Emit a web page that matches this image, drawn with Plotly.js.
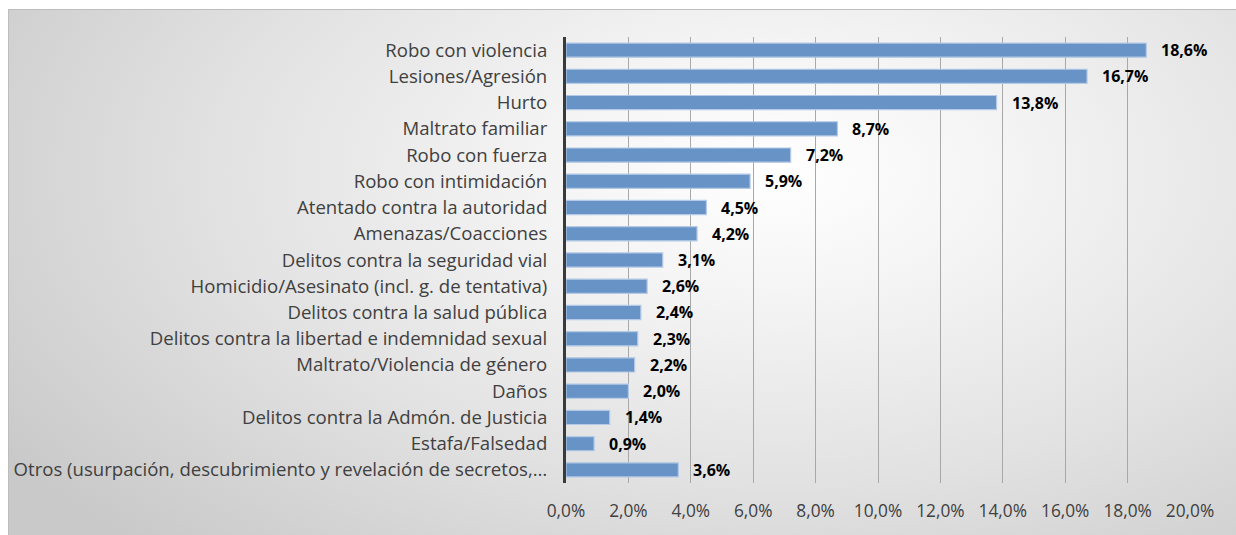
<!DOCTYPE html>
<html>
<head>
<meta charset="utf-8">
<script src="https://cdn.plot.ly/plotly-3.0.1.min.js"></script>
<style>
  html, body { margin: 0; padding: 0; background: #ffffff; }
  #wrap { position: relative; width: 1236px; height: 535px; overflow: hidden; }
  #bg { position: absolute; left: 8px; top: 9px; width: 1240px; height: 540px;
        border-top: 1px solid #bdbdbd; border-left: 1px solid #bdbdbd;
        background: radial-gradient(ellipse 75% 95% at 62% 30%, #ffffff 0%, #f4f4f4 25%, #e2e2e2 60%, #c9c9c9 100%); }
  #chart { position: absolute; left: 0; top: 0; width: 1236px; height: 535px; }
</style>
</head>
<body>
<div id="wrap">
  <div id="bg"></div>
  <div id="chart"></div>
</div>
<script>
const categories = [
  "Robo con violencia",
  "Lesiones/Agresión",
  "Hurto",
  "Maltrato familiar",
  "Robo con fuerza",
  "Robo con intimidación",
  "Atentado contra la autoridad",
  "Amenazas/Coacciones",
  "Delitos contra la seguridad vial",
  "Homicidio/Asesinato (incl. g. de tentativa)",
  "Delitos contra la salud pública",
  "Delitos contra la libertad e indemnidad sexual",
  "Maltrato/Violencia de género",
  "Daños",
  "Delitos contra la Admón. de Justicia",
  "Estafa/Falsedad",
  "Otros (usurpación, descubrimiento y revelación de secretos,…"
];
const values = [18.6, 16.7, 13.8, 8.7, 7.2, 5.9, 4.5, 4.2, 3.1, 2.6, 2.4, 2.3, 2.2, 2.0, 1.4, 0.9, 3.6];
const tickValues = [0, 2, 4, 6, 8, 10, 12, 14, 16, 18, 20];

const fmt = v => v.toFixed(1).replace('.', ',') + '%';

const trace = {
  type: 'bar',
  orientation: 'h',
  y: categories,
  x: values,
  marker: { color: '#6893c7', line: { color: '#b3c9e6', width: 1.2 } },
  hoverinfo: 'none'
};

const annotations = values.map((v, i) => ({
  x: v, y: categories[i], xref: 'x', yref: 'y',
  text: fmt(v), showarrow: false, xanchor: 'left', yanchor: 'middle',
  xshift: 13,
  font: { family: 'Open Sans, sans-serif', size: 16, color: '#000000', weight: 'bold' }
}));

const layout = {
  width: 1236, height: 535,
  margin: { l: 566, r: 46, t: 37, b: 52, pad: 0 },
  paper_bgcolor: 'rgba(0,0,0,0)',
  plot_bgcolor: 'rgba(0,0,0,0)',
  separators: ',.',
  bargap: 0.46,
  showlegend: false,
  font: { family: 'Open Sans, sans-serif', color: '#404040' },
  xaxis: {
    range: [0, 20],
    tickvals: tickValues,
    ticktext: tickValues.map(fmt),
    showgrid: true, gridcolor: '#a8a8a8', gridwidth: 1,
    zeroline: false, showline: false,
    ticks: 'outside', ticklen: 12, tickcolor: 'rgba(0,0,0,0)',
    tickfont: { size: 17.3, color: '#404040' },
    fixedrange: true
  },
  yaxis: {
    autorange: 'reversed',
    type: 'category',
    showgrid: false, zeroline: false,
    showline: true, linecolor: '#3a3a3a', linewidth: 3,
    ticks: 'outside', ticklen: 12, tickcolor: 'rgba(0,0,0,0)',
    tickfont: { size: 18.6, color: '#404040' },
    fixedrange: true
  },
  annotations: annotations
};

Plotly.newPlot('chart', [trace], layout, { displayModeBar: false, staticPlot: true });
</script>
</body>
</html>
